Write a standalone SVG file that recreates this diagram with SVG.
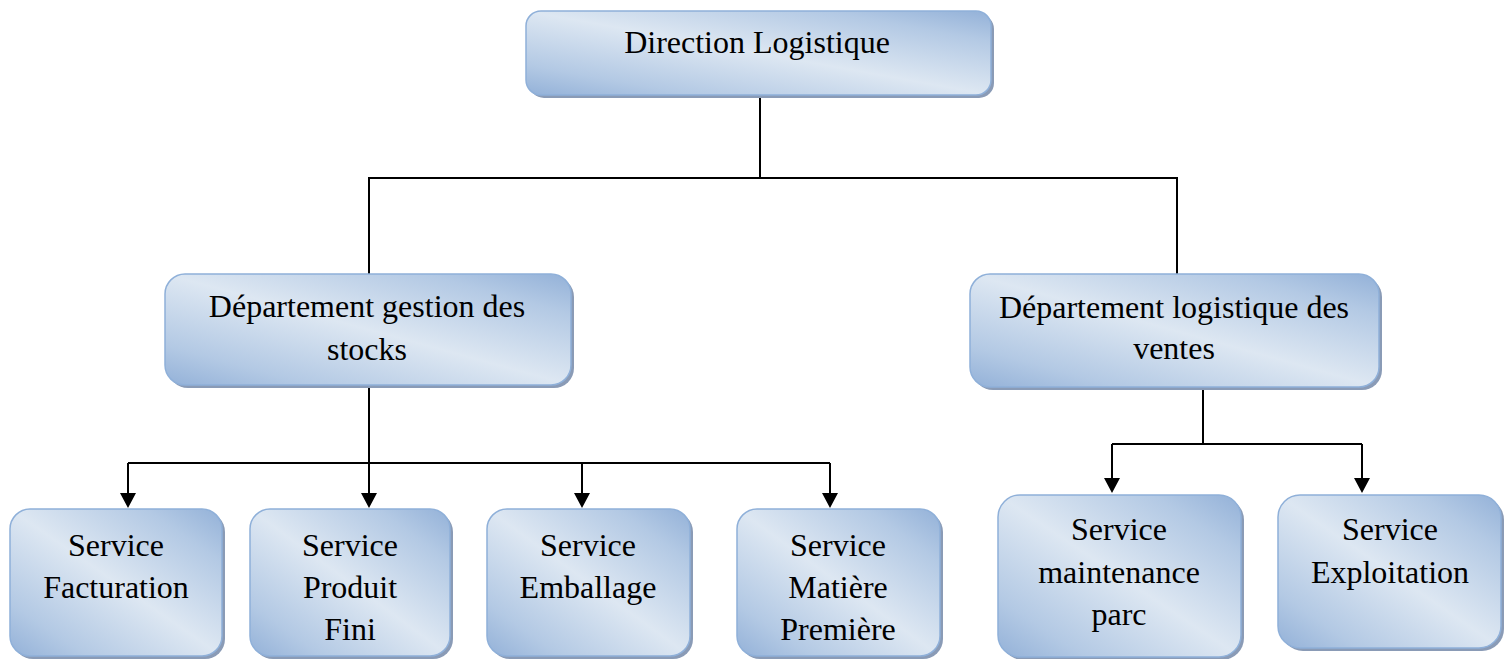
<svg xmlns="http://www.w3.org/2000/svg" width="1506" height="659" viewBox="0 0 1506 659">
  <defs>
    <linearGradient id="boxFill" x1="1" y1="0" x2="0" y2="1">
      <stop offset="0" stop-color="#93b1d8"/>
      <stop offset="0.18" stop-color="#b3c9e4"/>
      <stop offset="0.5" stop-color="#dde7f2"/>
      <stop offset="0.82" stop-color="#b3c9e4"/>
      <stop offset="1" stop-color="#93b1d8"/>
    </linearGradient>
    <marker id="arrow" viewBox="0 0 16 15" refX="8" refY="15" markerWidth="16" markerHeight="15" markerUnits="userSpaceOnUse" orient="auto-start-reverse">
      <path d="M0,0 L16,0 L8,15 Z" fill="#000"/>
    </marker>
  </defs>
  <style>
    .shadow { fill: #8a9bb6; }
    .box { fill: url(#boxFill); stroke: #8fb0d9; stroke-width: 1.5; }
    .label { font-family: "Liberation Serif", "Times New Roman", serif; font-size: 32px; fill: #000; text-anchor: middle; }
    .wire { fill: none; stroke: #000; stroke-width: 2; }
    .arrowed { fill: none; stroke: #000; stroke-width: 2; }
  </style>

  <rect width="1506" height="659" fill="#fff"/>

  <!-- connectors -->
  <g id="connectors">
    <path class="wire" d="M760,95 V178 M369,274 V178 H1177 V274"/>
    <path class="wire" d="M128,463 H830"/>
    <path class="wire" d="M369,385 V494"/>
    <path class="wire" d="M128,463 V494 M582,463 V494 M830,463 V494"/>
    <path class="wire" d="M1203,387 V444 M1112,444 H1362 M1112,444 V479 M1362,444 V479"/>
    <path d="M120,493 L136,493 L128,508 Z M361,493 L377,493 L369,508 Z M574,493 L590,493 L582,508 Z M822,493 L838,493 L830,508 Z"/>
    <path d="M1104,478 L1120,478 L1112,493 Z M1354,478 L1370,478 L1362,493 Z"/>
  </g>

  <!-- top level -->
  <g id="direction-logistique">
    <rect class="shadow" x="529" y="14" width="465" height="84" rx="15"/>
    <rect class="box" x="526" y="11" width="465" height="84" rx="15"/>
    <text class="label" x="757" y="53">Direction Logistique</text>
  </g>

  <!-- departments -->
  <g id="dept-gestion-stocks">
    <rect class="shadow" x="168" y="277" width="406" height="111" rx="20"/>
    <rect class="box" x="165" y="274" width="406" height="111" rx="20"/>
    <text class="label" x="367" y="317">Département gestion des</text>
    <text class="label" x="367" y="360">stocks</text>
  </g>

  <g id="dept-logistique-ventes">
    <rect class="shadow" x="973" y="277" width="409" height="113" rx="20"/>
    <rect class="box" x="970" y="274" width="409" height="113" rx="20"/>
    <text class="label" x="1174" y="318">Département logistique des</text>
    <text class="label" x="1174" y="359">ventes</text>
  </g>

  <!-- services -->
  <g id="service-facturation">
    <rect class="shadow" x="13" y="512" width="212" height="147" rx="20"/>
    <rect class="box" x="10" y="509" width="212" height="147" rx="20"/>
    <text class="label" x="116" y="556">Service</text>
    <text class="label" x="116" y="598">Facturation</text>
  </g>

  <g id="service-produit-fini">
    <rect class="shadow" x="253" y="512" width="200" height="147" rx="20"/>
    <rect class="box" x="250" y="509" width="200" height="147" rx="20"/>
    <text class="label" x="350" y="556">Service</text>
    <text class="label" x="350" y="598">Produit</text>
    <text class="label" x="350" y="640">Fini</text>
  </g>

  <g id="service-emballage">
    <rect class="shadow" x="490" y="512" width="203" height="147" rx="20"/>
    <rect class="box" x="487" y="509" width="203" height="147" rx="20"/>
    <text class="label" x="588" y="556">Service</text>
    <text class="label" x="588" y="598">Emballage</text>
  </g>

  <g id="service-matiere-premiere">
    <rect class="shadow" x="740" y="512" width="203" height="147" rx="20"/>
    <rect class="box" x="737" y="509" width="203" height="147" rx="20"/>
    <text class="label" x="838" y="556">Service</text>
    <text class="label" x="838" y="598">Matière</text>
    <text class="label" x="838" y="640">Première</text>
  </g>

  <g id="service-maintenance-parc">
    <rect class="shadow" x="1001" y="498" width="243" height="162" rx="22"/>
    <rect class="box" x="998" y="495" width="243" height="162" rx="22"/>
    <text class="label" x="1119" y="540">Service</text>
    <text class="label" x="1119" y="583">maintenance</text>
    <text class="label" x="1119" y="625">parc</text>
  </g>

  <g id="service-exploitation">
    <rect class="shadow" x="1281" y="498" width="223" height="153" rx="22"/>
    <rect class="box" x="1278" y="495" width="223" height="153" rx="22"/>
    <text class="label" x="1390" y="540">Service</text>
    <text class="label" x="1390" y="583">Exploitation</text>
  </g>
</svg>
